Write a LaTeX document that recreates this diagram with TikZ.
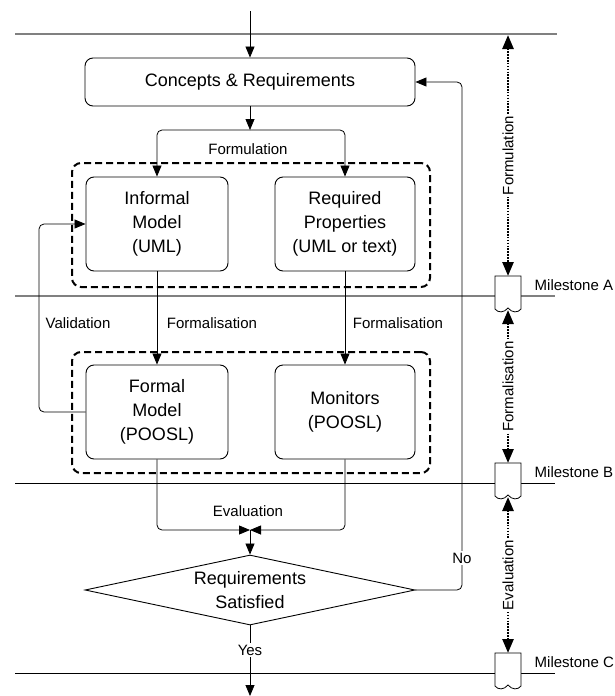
\documentclass[tikz,border=0pt]{standalone}
\usepackage{fontspec}
\setmainfont{Liberation Sans}
\usetikzlibrary{arrows.meta,shapes.geometric,calc}

\definecolor{rulegray}{RGB}{128,128,128}

\tikzset{
  proc/.style={draw, line width=0.9pt, rounded corners=8pt, align=center,
    inner sep=0pt, font=\fontsize{18}{24}\selectfont},
  decision/.style={draw, diamond, line width=0.9pt, align=center, inner sep=0pt,
    shape aspect=4.714, minimum width=330pt, minimum height=70pt,
    font=\fontsize{18}{24}\selectfont},
  group/.style={draw, line width=2pt, dash pattern=on 7pt off 4pt,
    rounded corners=9pt, inner sep=0pt},
  lbl/.style={font=\fontsize{15}{18}\selectfont, inner sep=1.5pt},
  flow/.style={line width=0.8pt, rounded corners=5pt,
    -{Triangle[length=11pt,width=9pt]}},
  phase/.style={line width=2.6pt, dash pattern=on 1.6pt off 1.3pt,
    {Triangle[length=14pt,width=11pt]}-{Triangle[length=14pt,width=11pt]}},
  softrule/.style={draw=rulegray, line width=1.3pt},
  hardrule/.style={draw=black, line width=0.9pt},
  milestone/.pic={
    \draw[line width=0.8pt, fill=white]
      (-13,-20) -- (13,-20) -- (13,13)
      .. controls (10,17) and (4,17) .. (0,12)
      .. controls (-4,17) and (-10,17) .. (-13,13) -- cycle;
  }
}

\begin{document}
\begin{tikzpicture}[x=1pt,y=-1pt]
  \useasboundingbox (0,0) rectangle (614,696);

  % phase rules
  \coordinate (r0a) at (15,34);  \coordinate (r0b) at (557,34);
  \coordinate (rAa) at (15,296); \coordinate (rAb) at (555,296);
  \coordinate (rBa) at (15,483); \coordinate (rBb) at (555,483);
  \coordinate (rCa) at (15,673); \coordinate (rCb) at (555,673);
  \draw[softrule] (r0a) -- (r0b);
  \draw[softrule] (rAa) -- (rAb);
  \draw[hardrule] (rBa) -- (rBb);
  \draw[hardrule] (rCa) -- (rCb);

  % milestones
  \pic at (508,296) {milestone};
  \pic at (508,483) {milestone};
  \pic at (508,673) {milestone};
  \coordinate (msTop) at (508,35);
  \coordinate (msAtop) at (508,276); \coordinate (msAbot) at (508,310);
  \coordinate (msBtop) at (508,463); \coordinate (msBbot) at (508,497);
  \coordinate (msCtop) at (508,653);
  \node[lbl, anchor=west] (msA) at (533,285) {Milestone A};
  \node[lbl, anchor=west] (msB) at (533,472) {Milestone B};
  \node[lbl, anchor=west] (msC) at (533,662) {Milestone C};

  % phase spans
  \draw[phase] (msTop) -- (msAtop)
    node[lbl, midway, rotate=90, fill=white] (phF) {Formulation};
  \draw[phase] (msAbot) -- (msBtop)
    node[lbl, midway, rotate=90, fill=white] (phM) {Formalisation};
  \draw[phase] (msBbot) -- (msCtop)
    node[lbl, midway, rotate=90, fill=white] (phE) {Evaluation};

  % groups
  \node[group, minimum width=358pt, minimum height=124pt] (infgroup) at (251,225) {};
  \node[group, minimum width=358pt, minimum height=121pt] (formgroup) at (251,412.5) {};

  % process boxes
  \node[proc, minimum width=330pt, minimum height=48pt] (concepts) at (250,82)
    {Concepts \& Requirements};
  \node[proc, minimum width=142pt, minimum height=94pt] (informal) at (157,224)
    {Informal\\Model\\(UML)};
  \node[proc, minimum width=140pt, minimum height=94pt] (required) at (345,224)
    {Required\\Properties\\(UML or text)};
  \node[proc, minimum width=142pt, minimum height=94pt] (formal) at (157,412)
    {Formal\\Model\\(POOSL)};
  \node[proc, minimum width=140pt, minimum height=94pt] (monitors) at (345,412)
    {Monitors\\(POOSL)};
  \node[decision] (check) at (250,590) {Requirements\\Satisfied};

  % helper points
  \coordinate (entry) at (250,11);
  \coordinate (fork) at (250,130);
  \coordinate (merge) at (250,530);
  \coordinate (valx) at (39,0);
  \coordinate (nox) at (462,0);
  \coordinate (exit) at (250,696);

  % connectors
  \draw[flow] (entry) -- (concepts.north);
  \draw[flow] (concepts.south) -- (fork);
  \draw[flow] (fork) -| (informal.north);
  \draw[flow] (fork) -| (required.north);
  \draw[flow] (informal.south) -- (formal.north);
  \draw[flow] (required.south) -- (monitors.north);
  \draw[flow] (formal.west) -- (formal.west -| valx) |- (informal.west);
  \draw[flow] (formal.south) |- (merge);
  \draw[flow] (monitors.south) |- (merge);
  \draw[flow] (merge) -- (check.north);
  \draw[flow] (check.east) -- (check.east -| nox) -- (nox |- concepts.east) -- (concepts.east);
  \draw[flow] (check.south) -- (exit);

  % connector labels
  \node[lbl] (lFormulation) at (248,149) {Formulation};
  \node[lbl] (lValidation) at (78,323) {Validation};
  \node[lbl] (lFormalL) at (212,323) {Formalisation};
  \node[lbl] (lFormalR) at (398,323) {Formalisation};
  \node[lbl] (lEvaluation) at (248,511) {Evaluation};
  \node[lbl, fill=white] (lNo) at (462,558) {No};
  \node[lbl, fill=white] (lYes) at (250,650) {Yes};
\end{tikzpicture}
\end{document}
